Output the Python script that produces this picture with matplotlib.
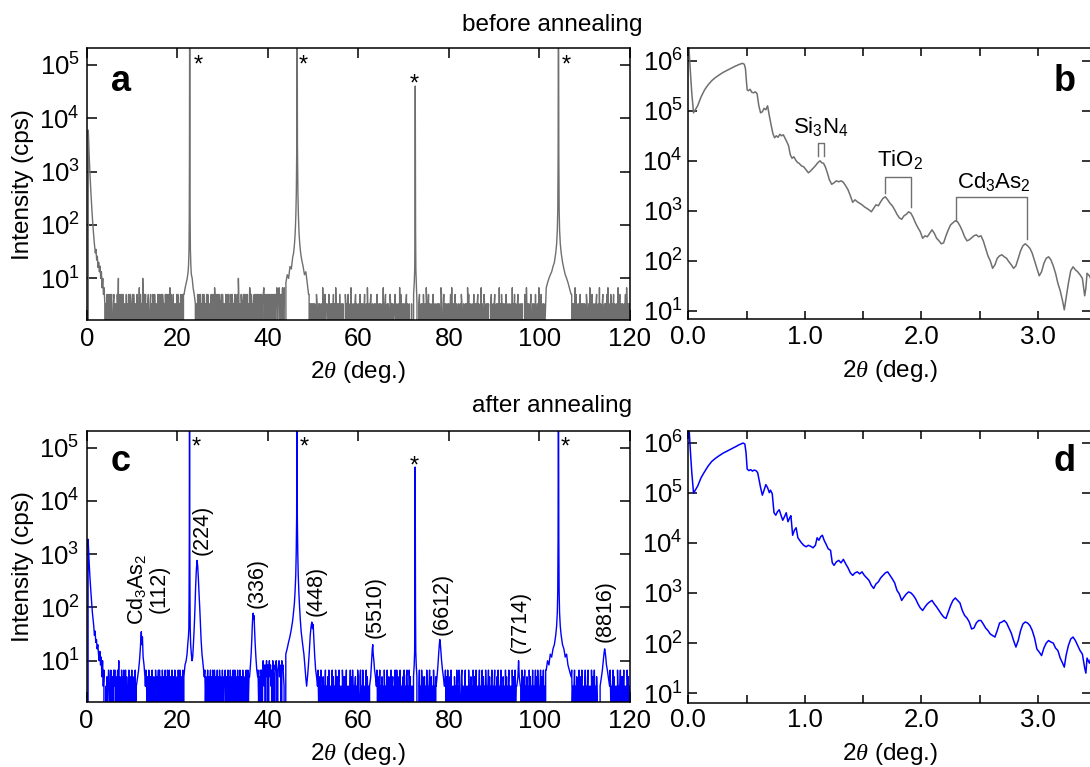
import numpy as np
import matplotlib
matplotlib.use("Agg")
import matplotlib.pyplot as plt
import matplotlib.transforms as mtransforms
from matplotlib.ticker import LogLocator, NullLocator, MultipleLocator, FormatStrFormatter

plt.rcParams.update({
    "font.family": ["Liberation Sans", "DejaVu Sans"],
    "mathtext.fontset": "custom",
    "mathtext.rm": "Liberation Sans",
    "mathtext.it": "Liberation Serif:italic",
    "mathtext.bf": "Liberation Sans:bold",
    "axes.linewidth": 1.1,
    "path.simplify": False,
})

# ---------------- data: wide-angle scans (panels a, c) ----------------
# count-rate quantum levels (cps) indexed by the digits of the noise strings
LEVELS = [0.0, 1.67, 3.33, 5.0, 6.67, 8.33, 10.0, 11.67, 13.33, 15.0]
WA_STEP = 0.125  # deg per digit

a_noise = (
    "0000000000" "0000000000" "0000000000" "0030213023" "1302301230" "2120316023" "0231302120" "3021302310"
    "2303120213" "0214031206" "2031302123" "0123021320" "3102213023" "1230320213" "2031320413" "0213021203"
    "1320213023" "0300000000" "0000000000" "0000203123" "0312031320" "2130312021" "3023104213" "0231320130"
    "3120213023" "1302130320" "2130213062" "0213202313" "0231302143" "1320213023" "0231320313" "0234130321"
    "3031230313" "2031324032" "4130324134" "0000000000" "0000000000" "0000000000" "0000000000" "0213020212"
    "1202103201" "2021020412" "0302221030" "1202013020" "4102120301" "2202010321" "2030120402" "1020231201"
    "2013022020" "1301204102" "0231020120" "2103012202" "0120401230" "1202103202" "0201231020" "1204030122"
    "0210230201" "2010200000" "0000000230" "1202031020" "4201302210" "2030122012" "0202104301" "2312020120"
    "2013040202" "1302210201" "2032102012" "0204130220" "1201302120" "2302010402" "1032012021" "2010230120"
    "2301202104" "0203120220" "1302012201" "2040213020" "1230201202" "2010320412" "0201230120" "2103012204"
    "1203012020" "1200000000" "0000000000" "0000000000" "0000000000" "0000000302" "1204030122" "0130212020"
    "2103201204" "0213020120" "2301204021" "0230120213" "0402013202" "1302102204" "0130220201" "2130412020"
    "2"
)
c_noise = (
    "0000000000" "0000000000" "0000000000" "0040213024" "3104203142" "4130241603" "2041304214" "0312041302"
    "4130214000" "0000000000" "0000042130" "4213024103" "2041302414" "0320413024" "1304214032" "0421304120"
    "3142041302" "4000000000" "0000000000" "0000000000" "0000000004" "1302413024" "0314204130" "2413041320"
    "4103241302" "4130420314" "2041302413" "0421304120" "3142041302" "0000000000" "0004130424" "0364250463"
    "5046352406" "4305463045" "6354064532" "0000000000" "0000000000" "0000000000" "0000000000" "0000000000"
    "0000000004" "1302410230" "2140213041" "0212403120" "4103124021" "2042130314" "0212024130" "4120231204"
    "2103412041" "2021403120" "0000000000" "0004130241" "2031204120" "2410312041" "2302142041" "2031402123"
    "0412034120" "4130212000" "0000000241" "2041302312" "0412024103" "1204120300" "0000000000" "0002413041"
    "2031402120" "3120412042" "1034120214" "0212041203" "1204130241" "2021402134" "0312041202" "4130214021"
    "2402130412" "0241203120" "4130214021" "2041302412" "0000000204" "1302412031" "2041302141" "2024130412"
    "0241302412" "0400000000" "0000000000" "0000000000" "0000000000" "0000000412" "0241203120" "4130241202"
    "1402134021" "2041302412" "0310000000" "0000000000" "0000041202" "4130212041" "2024130314" "0212041302"
    "2"
)

# panel a segments (angle deg, cps)
a_low_x = [0.35, 0.45, 0.55, 0.7, 0.85, 1.0, 1.15, 1.3, 1.45, 1.6, 1.75, 1.9, 2.05,
           2.2, 2.35, 2.5, 2.65, 2.8, 2.95, 3.1, 3.25, 3.4, 3.55, 3.7, 3.85, 4.0]
a_low_y = [6000, 3500, 2000, 1000, 550, 320, 190, 120, 80, 55, 40, 30, 35,
           22, 26, 16, 20, 13.3, 17, 10, 13.3, 6.67, 10, 5, 6.67, 3.33]
a_p1_x = [21.5, 21.75, 22.0, 22.2, 22.4, 22.5, 22.6, 22.65, 22.7, 22.75, 22.8, 22.85,
          22.9, 23.0, 23.1, 23.3, 23.5, 23.75, 24.0]
a_p1_y = [5, 6.67, 8.33, 10, 13.3, 18, 35, 120, 2000, 1e7, 2000, 120, 35, 18, 12, 10, 6.67, 5, 3.33]
a_p2_x = [44.0, 44.3, 44.6, 44.9, 45.2, 45.5, 45.7, 45.9, 46.0, 46.1, 46.2, 46.3, 46.4, 46.47,
          46.55, 46.65, 46.75, 46.85, 46.95, 47.1, 47.3, 47.5, 47.8, 48.1, 48.4, 48.7, 49.0]
a_p2_y = [8.33, 11.7, 10, 16.7, 15, 25, 30, 45, 60, 90, 160, 400, 3000, 1e7,
          3000, 400, 160, 90, 60, 40, 28, 22, 16.7, 11.7, 13.3, 8.33, 5]
a_p3_x = [72.2, 72.35, 72.45, 72.5, 72.57, 72.64, 72.7, 72.8, 72.95]
a_p3_y = [5, 8.33, 15, 80, 40000, 80, 15, 8.33, 3.33]
a_p4_x = [101.5, 101.8, 102.1, 102.4, 102.7, 103.0, 103.3, 103.6, 103.8, 103.95, 104.05,
          104.12, 104.2, 104.28, 104.35, 104.45, 104.6, 104.8, 105.1, 105.4, 105.7, 106.0,
          106.3, 106.6, 107.0]
a_p4_y = [6.67, 8.33, 10, 11.7, 13.3, 16.7, 20, 30, 45, 80, 200, 2000, 1e7, 2000, 200, 80,
          45, 30, 20, 15, 11.7, 10, 8.33, 6.67, 5]

# panel c segments
c_low_x = [0.35, 0.45, 0.55, 0.7, 0.85, 1.0, 1.15, 1.3, 1.45, 1.6, 1.75, 1.9, 2.05,
           2.2, 2.35, 2.5, 2.65, 2.8, 2.95, 3.1, 3.25, 3.4, 3.55, 3.7, 3.85, 4.0]
c_low_y = [1900, 1300, 800, 450, 280, 180, 120, 80, 60, 45, 30, 36, 22,
           25, 16.7, 20, 13.3, 10, 15, 8.33, 11.7, 5, 10, 3.33, 6.67, 0]
c_112_x = [11.0, 11.3, 11.5, 11.7, 11.85, 12.0, 12.1, 12.2, 12.35, 12.5, 12.7, 12.9, 13.0]
c_112_y = [3.33, 5, 6.67, 10, 15, 25, 35, 20, 28, 11.7, 8.33, 5, 3.33]
c_224_x = [21.5, 21.75, 22.0, 22.2, 22.35, 22.5, 22.6, 22.65, 22.7, 22.75, 22.8, 22.85, 22.9,
           23.0, 23.15, 23.3, 23.45, 23.6, 23.8, 23.95, 24.1, 24.25, 24.4, 24.55, 24.7, 24.85,
           25.0, 25.15, 25.3, 25.5, 25.75, 26.0]
c_224_y = [5, 8.33, 10, 13.3, 20, 28, 40, 150, 2000, 1e7, 2000, 150, 40,
           20, 13.3, 10, 11.7, 20, 45, 100, 250, 500, 760, 600, 350, 180,
           100, 50, 25, 13.3, 8.33, 5]
c_336_x = [36.0, 36.2, 36.35, 36.5, 36.6, 36.7, 36.8, 36.9, 37.0, 37.1, 37.25, 37.4, 37.6, 37.8]
c_336_y = [5, 8.33, 13.3, 25, 45, 65, 78, 60, 70, 40, 20, 11.7, 6.67, 5]
c_448_x = [44.0, 44.3, 44.6, 44.9, 45.2, 45.5, 45.7, 45.9, 46.05, 46.2, 46.3, 46.4, 46.47,
           46.55, 46.65, 46.75, 46.9, 47.05, 47.2, 47.4, 47.6, 47.8, 48.0, 48.2, 48.4, 48.6,
           48.8, 49.0, 49.2, 49.4, 49.6, 49.75, 49.9, 50.05, 50.2, 50.4, 50.6, 50.8, 51.0]
c_448_y = [13.3, 16.7, 22, 28, 38, 55, 80, 120, 200, 400, 1000, 5000, 1e7,
           5000, 1000, 400, 180, 100, 60, 35, 25, 18, 13.3, 8.33, 5, 3.33,
           5, 8.33, 15, 30, 45, 53, 40, 48, 25, 11.7, 6.67, 5, 3.33]
c_5510_x = [62.5, 62.75, 62.9, 63.0, 63.1, 63.2, 63.3, 63.45, 63.6, 63.8, 64.0]
c_5510_y = [3.33, 5, 8.33, 11.7, 16.7, 20, 13.3, 10, 6.67, 5, 3.33]
c_sub3_x = [72.2, 72.35, 72.45, 72.5, 72.57, 72.64, 72.7, 72.8, 72.95]
c_sub3_y = [5, 8.33, 15, 100, 43000, 100, 15, 8.33, 5]
c_6612_x = [77.2, 77.4, 77.6, 77.75, 77.9, 78.0, 78.1, 78.25, 78.4, 78.6, 78.8, 79.0]
c_6612_y = [3.33, 5, 8.33, 13.3, 20, 25, 22, 15, 10, 6.67, 5, 3.33]
c_7714_x = [95.0, 95.25, 95.4, 95.55, 95.8]
c_7714_y = [3.33, 5, 10, 5, 3.33]
c_sub4_x = [101.5, 101.8, 102.1, 102.4, 102.7, 103.0, 103.3, 103.6, 103.8, 103.95, 104.05,
            104.12, 104.2, 104.28, 104.35, 104.45, 104.6, 104.8, 105.1, 105.4, 105.7, 106.0,
            106.3, 106.6, 107.0]
c_sub4_y = [6.67, 10, 8.33, 13.3, 11.7, 16.7, 20, 30, 45, 80, 200, 2000, 1e7, 2000, 200, 80,
            45, 30, 20, 16.7, 11.7, 13.3, 8.33, 6.67, 5]
c_8816_x = [113.4, 113.7, 113.9, 114.1, 114.25, 114.4, 114.5, 114.65, 114.8, 115.0, 115.2, 115.5]
c_8816_y = [3.33, 5, 6.67, 10, 13.3, 16.7, 15, 11.7, 8.33, 6.67, 5, 3.33]

star_a = [(24.6, 0.913), (47.9, 0.913), (72.35, 0.846), (106.0, 0.913)]
star_c = [(24.3, 0.916), (48.0, 0.916), (72.4, 0.846), (105.6, 0.916)]
c_labels = ["Cd$_\\mathregular{3}$As$_\\mathregular{2}$\n(112)", "(224)", "(336)", "(448)",
            "(5510)", "(6612)", "(7714)", "(8816)"]
c_label_pos = [(13.4, 47), (25.6, 980), (37.7, 99), (50.6, 68), (63.8, 27), (78.6, 31),
               (95.8, 14), (114.5, 22)]

# ---------------- data: reflectivity scans (panels b, d) ----------------
b_angle = [0.000, 0.010, 0.020, 0.030, 0.045, 0.060, 0.080, 0.110, 0.140, 0.170, 0.200, 0.230,
           0.260, 0.300, 0.350, 0.400, 0.440, 0.465, 0.480, 0.490, 0.500, 0.505, 0.515, 0.530,
           0.545, 0.560, 0.575, 0.590, 0.605, 0.620, 0.635, 0.650, 0.665, 0.680, 0.695, 0.710,
           0.725, 0.740, 0.755, 0.770, 0.785, 0.800, 0.815, 0.830, 0.845, 0.860, 0.875, 0.890,
           0.905, 0.920, 0.935, 0.950, 0.970, 0.990, 1.010, 1.030, 1.050, 1.070, 1.090, 1.110,
           1.130, 1.145, 1.160, 1.175, 1.190, 1.210, 1.230, 1.250, 1.270, 1.290, 1.310, 1.330,
           1.350, 1.370, 1.390, 1.410, 1.430, 1.450, 1.470, 1.490, 1.510, 1.530, 1.550, 1.570,
           1.590, 1.610, 1.630, 1.650, 1.670, 1.690, 1.710, 1.730, 1.750, 1.770, 1.790, 1.810,
           1.830, 1.850, 1.870, 1.890, 1.910, 1.930, 1.950, 1.970, 1.990, 2.010, 2.030, 2.050,
           2.070, 2.090, 2.110, 2.130, 2.150, 2.170, 2.190, 2.210, 2.230, 2.250, 2.270, 2.290,
           2.310, 2.330, 2.350, 2.370, 2.390, 2.410, 2.430, 2.450, 2.470, 2.490, 2.510, 2.530,
           2.550, 2.570, 2.590, 2.610, 2.630, 2.650, 2.670, 2.690, 2.710, 2.730, 2.750, 2.770,
           2.790, 2.810, 2.830, 2.850, 2.870, 2.890, 2.910, 2.930, 2.950, 2.970, 2.990, 3.010,
           3.030, 3.050, 3.070, 3.090, 3.110, 3.130, 3.150, 3.170, 3.190, 3.210, 3.225, 3.240,
           3.260, 3.280, 3.300, 3.320, 3.340, 3.360, 3.380, 3.400, 3.410, 3.420, 3.440, 3.460]
b_log10_cps = [6.50, 6.08, 5.70, 5.35, 4.96, 5.02, 5.10, 5.28, 5.42, 5.52, 5.60, 5.66,
               5.71, 5.77, 5.83, 5.89, 5.93, 5.95, 5.93, 5.85, 5.55, 5.42, 5.40, 5.43,
               5.37, 5.36, 5.38, 5.34, 5.10, 4.96, 4.98, 5.05, 5.02, 5.10, 4.90, 4.72,
               4.55, 4.46, 4.50, 4.47, 4.53, 4.50, 4.52, 4.45, 4.38, 4.30, 4.12, 4.05,
               4.08, 4.02, 3.97, 3.95, 3.90, 3.88, 3.82, 3.76, 3.80, 3.85, 3.90, 3.96,
               4.00, 3.96, 3.95, 3.88, 3.78, 3.62, 3.53, 3.56, 3.60, 3.58, 3.60, 3.57,
               3.50, 3.42, 3.30, 3.17, 3.22, 3.18, 3.15, 3.12, 3.08, 3.05, 3.02, 2.98,
               3.05, 3.12, 3.10, 3.18, 3.25, 3.28, 3.22, 3.15, 3.10, 3.02, 2.93, 2.86,
               2.83, 2.90, 2.93, 2.98, 2.95, 2.86, 2.75, 2.66, 2.58, 2.45, 2.50, 2.48,
               2.55, 2.62, 2.55, 2.45, 2.40, 2.34, 2.36, 2.50, 2.62, 2.72, 2.76, 2.80,
               2.78, 2.70, 2.60, 2.48, 2.40, 2.42, 2.46, 2.50, 2.52, 2.48, 2.50, 2.40,
               2.25, 2.10, 2.00, 1.85, 1.92, 2.05, 2.10, 2.12, 2.08, 2.05, 1.98, 1.92,
               1.85, 1.90, 2.05, 2.20, 2.30, 2.34, 2.30, 2.25, 2.15, 2.00, 1.85, 1.70,
               1.78, 1.95, 2.05, 2.08, 2.02, 1.90, 1.75, 1.55, 1.40, 1.20, 1.02, 1.25,
               1.55, 1.80, 1.88, 1.82, 1.78, 1.72, 1.65, 1.30, 1.45, 1.75, 1.70, 1.60]

d_angle = [0.000, 0.010, 0.020, 0.030, 0.045, 0.060, 0.080, 0.110, 0.140, 0.170, 0.200, 0.230,
           0.260, 0.300, 0.350, 0.400, 0.440, 0.470, 0.485, 0.495, 0.505, 0.520, 0.535, 0.550,
           0.565, 0.580, 0.595, 0.605, 0.620, 0.635, 0.650, 0.665, 0.680, 0.695, 0.705, 0.720,
           0.735, 0.750, 0.765, 0.780, 0.795, 0.810, 0.825, 0.840, 0.855, 0.870, 0.880, 0.895,
           0.910, 0.925, 0.940, 0.955, 0.970, 0.990, 1.010, 1.030, 1.050, 1.070, 1.090, 1.105,
           1.120, 1.135, 1.150, 1.165, 1.180, 1.200, 1.220, 1.235, 1.250, 1.270, 1.290, 1.310,
           1.330, 1.350, 1.370, 1.390, 1.410, 1.430, 1.450, 1.470, 1.490, 1.510, 1.530, 1.550,
           1.570, 1.590, 1.610, 1.630, 1.650, 1.670, 1.690, 1.710, 1.730, 1.750, 1.770, 1.790,
           1.810, 1.830, 1.850, 1.870, 1.890, 1.910, 1.930, 1.950, 1.970, 1.990, 2.010, 2.030,
           2.050, 2.070, 2.090, 2.110, 2.130, 2.150, 2.170, 2.190, 2.210, 2.230, 2.250, 2.270,
           2.290, 2.310, 2.330, 2.350, 2.370, 2.390, 2.410, 2.430, 2.450, 2.470, 2.490, 2.510,
           2.530, 2.550, 2.570, 2.590, 2.610, 2.630, 2.650, 2.670, 2.690, 2.710, 2.730, 2.750,
           2.770, 2.790, 2.810, 2.830, 2.850, 2.870, 2.890, 2.910, 2.930, 2.950, 2.970, 2.990,
           3.010, 3.030, 3.050, 3.070, 3.090, 3.110, 3.130, 3.150, 3.170, 3.190, 3.210, 3.225,
           3.240, 3.260, 3.280, 3.300, 3.320, 3.340, 3.360, 3.380, 3.400, 3.410, 3.420, 3.440,
           3.460]
d_log10_cps = [6.50, 6.15, 5.75, 5.40, 4.99, 5.05, 5.13, 5.30, 5.42, 5.53, 5.62, 5.68,
               5.73, 5.79, 5.85, 5.91, 5.96, 5.99, 5.97, 5.80, 5.47, 5.44, 5.46, 5.43,
               5.45, 5.44, 5.40, 5.28, 5.10, 4.95, 5.05, 5.16, 5.10, 5.00, 5.05, 4.98,
               4.60, 4.55, 4.62, 4.66, 4.55, 4.45, 4.52, 4.60, 4.42, 4.50, 4.54, 4.15,
               4.25, 4.30, 4.10, 4.05, 4.00, 3.95, 3.92, 3.95, 3.93, 3.90, 3.95, 4.10,
               4.05, 4.12, 4.15, 4.05, 3.98, 3.88, 3.85, 3.60, 3.55, 3.62, 3.65, 3.60,
               3.67, 3.58, 3.50, 3.40, 3.35, 3.40, 3.42, 3.38, 3.42, 3.35, 3.30, 3.25,
               3.15, 3.09, 3.18, 3.22, 3.30, 3.35, 3.40, 3.42, 3.35, 3.28, 3.20, 3.05,
               2.98, 2.85, 2.92, 2.98, 3.02, 3.00, 2.95, 2.88, 2.78, 2.70, 2.65, 2.72,
               2.78, 2.82, 2.85, 2.78, 2.72, 2.65, 2.58, 2.52, 2.49, 2.62, 2.75, 2.85,
               2.90, 2.85, 2.80, 2.65, 2.55, 2.50, 2.42, 2.28, 2.30, 2.40, 2.45, 2.45,
               2.38, 2.30, 2.25, 2.18, 2.15, 2.12, 2.25, 2.40, 2.42, 2.45, 2.40, 2.30,
               2.20, 2.05, 1.92, 2.05, 2.25, 2.38, 2.42, 2.40, 2.35, 2.25, 2.10, 1.88,
               1.82, 1.75, 1.90, 2.00, 2.05, 2.02, 2.00, 1.90, 1.85, 1.70, 1.60, 1.52,
               1.75, 1.95, 2.08, 2.12, 2.05, 1.95, 1.85, 1.78, 1.50, 1.40, 1.70, 1.60,
               1.75]

# bracket annotations on panel b: (label, label position, bracket path)
b_brackets = [
    ("Si$_\\mathregular{3}$N$_\\mathregular{4}$", (1.14, 48500),
     [(1.11, 12200), (1.11, 23200), (1.165, 23200), (1.165, 12200)]),
    ("TiO$_\\mathregular{2}$", (1.817, 10500),
     [(1.687, 2320), (1.687, 4850), (1.91, 4850), (1.91, 1185)]),
    ("Cd$_\\mathregular{3}$As$_\\mathregular{2}$", (2.617, 3850),
     [(2.298, 640), (2.298, 1880), (2.908, 1880), (2.908, 272)]),
]

GRAY = "#6f6f6f"
BLUE = "#0000ff"
TICK_FS = 18.5


def assemble(noise, segments):
    lev = np.array([LEVELS[int(ch)] for ch in noise])
    x = WA_STEP * np.arange(len(noise))
    keep = np.ones(len(x), bool)
    for sx, sy in segments:
        keep &= ~((x >= sx[0]) & (x <= sx[-1]))
    X = np.concatenate([x[keep]] + [np.asarray(s[0], float) for s in segments])
    Y = np.concatenate([lev[keep]] + [np.asarray(s[1], float) for s in segments])
    o = np.argsort(X, kind="stable")
    return X[o], Y[o]


W, H = 1090, 767
fig = plt.figure(figsize=(W / 100, H / 100), dpi=100)


def px_axes(l, t, r, b):
    return fig.add_axes([l / W, 1 - b / H, (r - l) / W, (b - t) / H])


ax_a = px_axes(86.7, 48.3, 630.0, 320.0)
ax_b = px_axes(688.3, 48.3, 1091.0, 319.3)
ax_c = px_axes(86.5, 431.0, 630.0, 702.3)
ax_d = px_axes(688.3, 431.0, 1091.0, 702.7)

xa, ya = assemble(a_noise, [(a_low_x, a_low_y), (a_p1_x, a_p1_y), (a_p2_x, a_p2_y),
                            (a_p3_x, a_p3_y), (a_p4_x, a_p4_y)])
xc, yc = assemble(c_noise, [(c_low_x, c_low_y), (c_112_x, c_112_y), (c_224_x, c_224_y),
                            (c_336_x, c_336_y), (c_448_x, c_448_y), (c_5510_x, c_5510_y),
                            (c_sub3_x, c_sub3_y), (c_6612_x, c_6612_y), (c_7714_x, c_7714_y),
                            (c_sub4_x, c_sub4_y), (c_8816_x, c_8816_y)])

for ax, x, y, col in [(ax_a, xa, ya, GRAY), (ax_c, xc, yc, BLUE)]:
    ax.set_yscale("log", nonpositive="clip")
    ax.plot(x, y, color=col, lw=1.0)
    ax.set_xlim(0, 120)
    ax.set_ylim(10 ** 0.22, 10 ** 5.31)
    ax.xaxis.set_major_locator(MultipleLocator(20))
    ax.yaxis.set_major_locator(LogLocator(base=10, numticks=12))
    ax.yaxis.set_minor_locator(NullLocator())
    ax.tick_params(which="both", direction="in", top=True, right=True, length=7.5,
                   width=1.1, labelsize=TICK_FS, pad=5)
    ax.set_xlabel("2$\\theta$ (deg.)", fontsize=17.5)
    ax.xaxis.set_label_coords(0.5, -0.142)
    ax.set_ylabel("Intensity (cps)", fontsize=17.5)
    ax.yaxis.set_label_coords(-0.097, 0.5)

for ax, ang, lg, col in [(ax_b, b_angle, b_log10_cps, GRAY), (ax_d, d_angle, d_log10_cps, BLUE)]:
    ax.set_yscale("log", nonpositive="clip")
    ax.plot(ang, 10 ** np.asarray(lg), color=col, lw=1.1)
    ax.set_xlim(0, 3.454)
    ax.xaxis.set_major_locator(MultipleLocator(1.0))
    ax.xaxis.set_minor_locator(MultipleLocator(0.5))
    ax.xaxis.set_major_formatter(FormatStrFormatter("%.1f"))
    ax.yaxis.set_major_locator(LogLocator(base=10, numticks=12))
    ax.yaxis.set_minor_locator(NullLocator())
    ax.tick_params(which="both", direction="in", top=True, right=True, width=1.1,
                   labelsize=TICK_FS, pad=4)
    ax.tick_params(axis="x", which="both", length=5.5)
    ax.tick_params(axis="y", which="both", length=6.5)
    ax.set_xlabel("2$\\theta$ (deg.)", fontsize=17.5)
    ax.xaxis.set_label_coords(0.5, -0.142)
ax_b.set_ylim(10 ** 0.83, 10 ** 6.25)
ax_d.set_ylim(10 ** 0.81, 10 ** 6.23)

for label, (tx, ty), path in b_brackets:
    px_, py_ = zip(*path)
    ax_b.plot(px_, py_, color=GRAY, lw=1.0)
    ax_b.text(tx, ty, label, fontsize=16, ha="center", va="center")

for ax, stars in [(ax_a, star_a), (ax_c, star_c)]:
    tr = mtransforms.blended_transform_factory(ax.transData, ax.transAxes)
    for sx, sy in stars:
        ax.text(sx, sy, "*", transform=tr, fontsize=17, ha="center", va="baseline")

for lab, (lx, ly) in zip(c_labels, c_label_pos):
    ax_c.text(lx, ly, lab, rotation=90, fontsize=15.5, ha="center", va="bottom",
              multialignment="center", linespacing=1.0)

for ax, letter, xf, yf in [(ax_a, "a", 0.044, 0.844), (ax_b, "b", 0.908, 0.844),
                           (ax_c, "c", 0.044, 0.854), (ax_d, "d", 0.908, 0.854)]:
    ax.text(xf, yf, letter, transform=ax.transAxes, fontsize=26, fontweight="bold",
            ha="left", va="baseline")

fig.text(552 / W, 1 - 25 / H, "before annealing", fontsize=17.5, ha="center", va="center")
fig.text(552 / W, 1 - 406 / H, "after annealing", fontsize=17.5, ha="center", va="center")

fig.savefig("out.png", dpi=100)
